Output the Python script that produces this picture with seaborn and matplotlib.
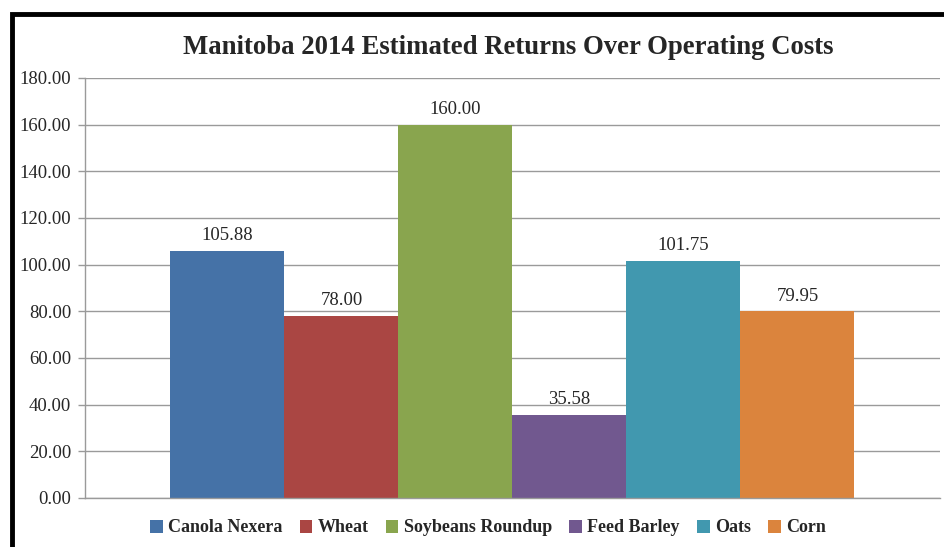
import matplotlib
matplotlib.use("Agg")
import matplotlib.pyplot as plt
import seaborn as sns
import pandas as pd
from matplotlib.patches import Rectangle

# =========================
# DATA
# =========================
crops = ["Canola Nexera", "Wheat", "Soybeans Roundup", "Feed Barley", "Oats", "Corn"]
returns = [105.88, 78.00, 160.00, 35.58, 101.75, 79.95]
colors = ["#4572A7", "#AA4643", "#89A54E", "#71588F", "#4198AF", "#DB843D"]
y_ticks = [0, 20, 40, 60, 80, 100, 120, 140, 160, 180]

df = pd.DataFrame({"group": ["2014"] * len(crops), "crop": crops, "value": returns})

# =========================
# PLOT
# =========================
sns.set_style("white")
plt.rcParams["font.family"] = ["Liberation Serif", "DejaVu Serif"]

fig = plt.figure(figsize=(9.45, 5.47), dpi=100)
ax = fig.add_axes([85 / 945, 1 - 498 / 547, 855 / 945, 420 / 547])

sns.barplot(
    data=df, x="group", y="value", hue="crop",
    hue_order=crops, palette=colors, width=0.8,
    saturation=1, edgecolor="none", linewidth=0, ax=ax
)

for cont in ax.containers:
    ax.bar_label(cont, fmt="%.2f", padding=5, fontsize=13.5)

ax.set_xlim(-0.5, 0.5)
ax.set_ylim(0, 180)
ax.set_yticks(y_ticks)
ax.set_yticklabels([f"{v:.2f}" for v in y_ticks], fontsize=13.5)
ax.set_xticks([])
ax.set_xlabel("")
ax.set_ylabel("")
ax.yaxis.grid(True, color="#9a9a9a", linewidth=1)
ax.set_axisbelow(True)
ax.tick_params(axis="y", length=5, color="#9a9a9a", width=1, pad=5, left=True)
for side in ["top", "right"]:
    ax.spines[side].set_visible(False)
for side in ["left", "bottom"]:
    ax.spines[side].set_color("#9a9a9a")
    ax.spines[side].set_linewidth(1)

ax.legend(
    loc="center", bbox_to_anchor=(488 / 945, 1 - 528 / 547),
    bbox_transform=fig.transFigure, ncol=6, frameon=False,
    prop={"weight": "bold", "size": 13}, handlelength=0.7, handleheight=0.7,
    handletextpad=0.3, columnspacing=0.95
)

fig.text(508 / 945, 1 - 48 / 547, "Manitoba 2014 Estimated Returns Over Operating Costs",
         ha="center", va="center", fontsize=19.3, fontweight="bold")

# black chart frame, cut off at right and bottom
fig.patches.append(Rectangle((12 / 945, -0.1), 1.2, 1.1 - 13.5 / 547,
                             transform=fig.transFigure, fill=False,
                             edgecolor="black", linewidth=3.5, clip_on=False))

fig.savefig("out.png", dpi=100)
plt.close(fig)
